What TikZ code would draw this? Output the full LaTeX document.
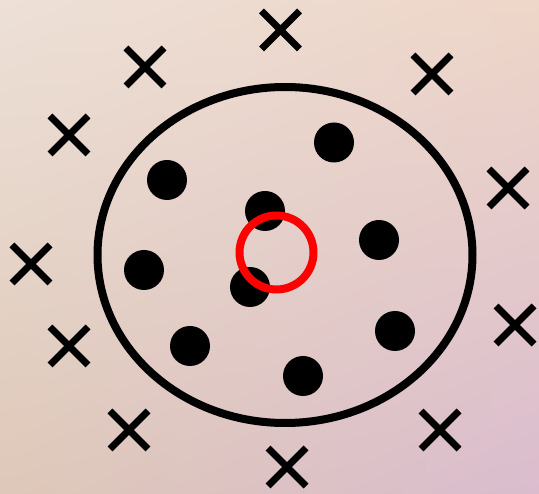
\documentclass[tikz,border=0pt]{standalone}
\usetikzlibrary{shapes.geometric,shadings}
\definecolor{bgUL}{RGB}{237,224,215}
\definecolor{bgUR}{RGB}{238,214,200}
\definecolor{bgLL}{RGB}{222,200,184}
\definecolor{bgLR}{RGB}{218,188,206}
\definecolor{ringred}{RGB}{255,0,0}
\tikzset{
  dotnode/.style={circle,fill=black,minimum size=40pt,inner sep=0pt},
  crossmark/.style={line width=7pt},
}
\newcommand{\xmark}[2]{\draw[crossmark] (#1-19,#2-19) -- (#1+19,#2+19) (#1-19,#2+19) -- (#1+19,#2-19);}
\begin{document}
\begin{tikzpicture}[x=1pt,y=-1pt]
\useasboundingbox (0,0) rectangle (539,494);
\shade[upper left=bgUL,upper right=bgUR,lower left=bgLL,lower right=bgLR] (0,0) rectangle (539,494);
% boundary ellipse
\node[ellipse,draw=black,line width=8pt,minimum width=375pt,minimum height=336pt,inner sep=0pt] (bound) at (285,255) {};
% points inside
\node[dotnode] (d1) at (334,142.5) {};
\node[dotnode] (d2) at (167,180) {};
\node[dotnode] (d3) at (265,211) {};
\node[dotnode] (d4) at (379,240) {};
\node[dotnode] (d5) at (144,270) {};
\node[dotnode] (d6) at (250,287) {};
\node[dotnode] (d7) at (395,331) {};
\node[dotnode] (d8) at (190,346) {};
\node[dotnode] (d9) at (303,376) {};
% red query circle
\node[circle,draw=ringred,line width=8pt,minimum size=74pt,inner sep=0pt] (q) at (276.5,252.5) {};
% crosses outside
\xmark{280.5}{30}
\xmark{145}{67}
\xmark{432}{74}
\xmark{69}{135}
\xmark{508}{188}
\xmark{31}{264}
\xmark{515}{325}
\xmark{69}{346}
\xmark{129}{430}
\xmark{440}{430}
\xmark{287}{467}
\end{tikzpicture}
\end{document}
